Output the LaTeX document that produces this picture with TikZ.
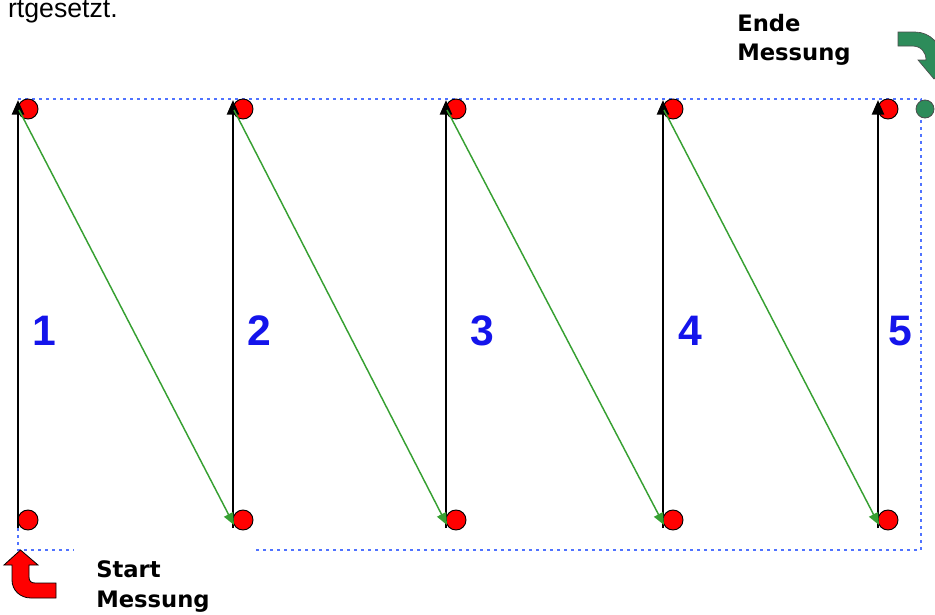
\documentclass[tikz,border=0pt]{standalone}
\usepackage{fontspec}
\setmainfont{Liberation Sans}
\newfontfamily\lblfont{DejaVu Sans}
\usetikzlibrary{arrows.meta}
\definecolor{dotred}{RGB}{255,0,0}
\definecolor{pathblue}{RGB}{80,115,255}
\definecolor{numblue}{RGB}{20,20,235}
\definecolor{diaggreen}{RGB}{55,160,50}
\definecolor{arrgreen}{RGB}{45,140,90}
\tikzset{
  reddot/.style={circle,fill=dotred,draw=black,line width=0.7pt,minimum size=15pt,inner sep=0pt},
  greendot/.style={circle,fill=arrgreen,draw=black!70,line width=0.6pt,minimum size=13.5pt,inner sep=0pt},
  uparrow/.style={draw=black,line width=1.9pt,-{Triangle[length=11pt,width=9pt]}},
  diagarrow/.style={draw=diaggreen,line width=1.1pt,-{Triangle[length=9pt,width=7.5pt]}},
  bluedots/.style={draw=pathblue,line width=2.2pt,dash pattern=on 2.1pt off 3.15pt},
  numlbl/.style={font=\fontsize{32}{36}\selectfont\bfseries,text=numblue,inner sep=0pt},
  msglbl/.style={font=\lblfont\fontsize{17}{23}\selectfont\bfseries,align=left,inner sep=0pt,anchor=north west}
}
\begin{document}
\begin{tikzpicture}[x=0.75pt,y=-0.75pt]
\useasboundingbox (0,0) rectangle (935,614);
\clip (0,0) rectangle (935,614);
% header text fragment
\node[anchor=base east,inner sep=0pt,font=\fontsize{20}{24}\selectfont] (hdr) at (118,17) {rtgesetzt.};
% blue dotted measuring path
\coordinate (p0) at (18,99);
\coordinate (p1) at (921,99);
\coordinate (p2) at (921,550);
\coordinate (p3) at (256,550);
\coordinate (q0) at (18,528);
\coordinate (q1) at (18,550);
\coordinate (q2) at (74,550);
\draw[bluedots] (p0) -- (p1) -- (p2) -- (p3);
\draw[bluedots] (q0) -- (q1) -- (q2);
% dots and arrows
\foreach \i/\x in {1/18,2/233,3/446,4/663,5/878}{
  \node[reddot] (t\i) at (\x+10,109) {};
  \node[reddot] (b\i) at (\x+10,520) {};
  \coordinate (lt\i) at (\x,100);
  \coordinate (lb\i) at (\x,528);
  \coordinate (gs\i) at (\x+1,110);
  \coordinate (ge\i) at (\x+1,525);
}
\node[greendot] (gend) at (925,109) {};
\foreach \i in {1,...,5}{
  \draw[uparrow] (lb\i) -- (lt\i);
}
\foreach \i/\j in {1/2,2/3,3/4,4/5}{
  \draw[diagarrow] (gs\i) -- (ge\j);
}
% numbers
\node[numlbl] (n1) at (44,331) {1};
\node[numlbl] (n2) at (259,331) {2};
\node[numlbl] (n3) at (482,331) {3};
\node[numlbl] (n4) at (690,331) {4};
\node[numlbl] (n5) at (900,331) {5};
% labels
\node[msglbl] (start) at (96,560) {Start\\[0pt]Messung};
\node[msglbl] (ende) at (737,14) {Ende\\[-1pt]Messung};
% red start arrow
\fill[dotred,draw=black,line width=0.6pt]
  (20.5,550) -- (38,565) -- (29,565) -- (29,577) .. controls (29,581) and (31,583) .. (35,583)
  -- (56,583) -- (56,598) -- (31,598) .. controls (20,598) and (12,590) .. (12,580)
  -- (12,565) -- (4,565) -- cycle;
% green end arrow
\fill[arrgreen,draw=black!70,line width=0.5pt]
  (898,32) -- (915,32) .. controls (930,32) and (942,44) .. (942,60)
  -- (950,60) -- (934,79) -- (918,60) -- (926,60)
  .. controls (926,52) and (921,46) .. (912,46) -- (898,46) -- cycle;
\end{tikzpicture}
\end{document}
